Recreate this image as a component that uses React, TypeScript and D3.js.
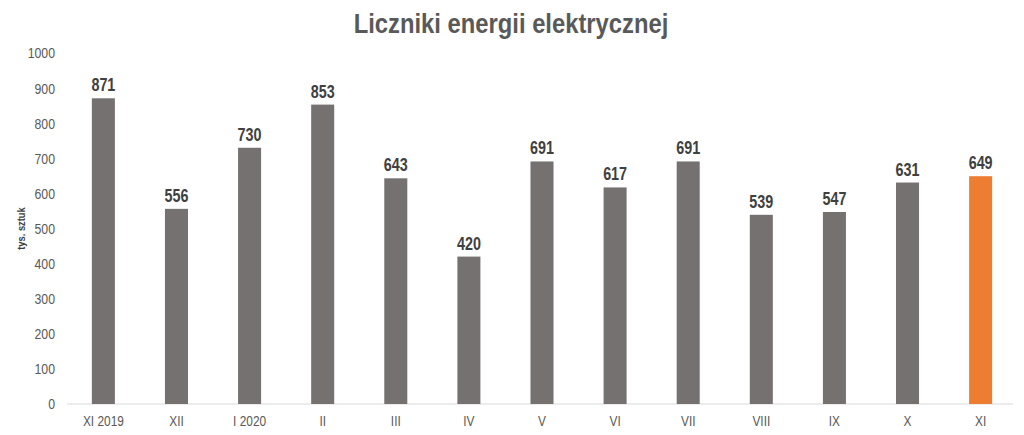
import React from "react";
import * as d3 from "d3";

const categories = ["XI 2019", "XII", "I 2020", "II", "III", "IV", "V", "VI", "VII", "VIII", "IX", "X", "XI"];
const values = [871, 556, 730, 853, 643, 420, 691, 617, 691, 539, 547, 631, 649];
const yTicks = [0, 100, 200, 300, 400, 500, 600, 700, 800, 900, 1000];

const W = 1024, H = 435;
const FONT = "'Liberation Sans', Arial, sans-serif";
const SX = 0.82;

function NText({ x, y, size, bold, anchor, fill, children, dy }: any) {
  return (
    <text transform={`translate(${x},${y}) scale(${SX},1)`} dy={dy} textAnchor={anchor} fontFamily={FONT}
      fontWeight={bold ? "bold" : "normal"} fontSize={size} fill={fill}>{children}</text>
  );
}

export default function App() {
  const x = d3.scaleBand<string>().domain(categories).range([67, 1017]).paddingInner(0.685).paddingOuter(0.34);
  const y = d3.scaleLinear().domain([0, 1000]).range([404, 53]);
  return (
    <svg width={W} height={H} style={{ position: "absolute", left: 0, top: 0, background: "#fff" }}>
      <text transform={`translate(511,33) scale(0.85,1)`} textAnchor="middle" fontFamily={FONT} fontWeight="bold" fontSize={28} fill="#595959">Liczniki energii elektrycznej</text>
      {yTicks.map(t => (
        <NText key={t} x={55} y={y(t)} dy="0.36em" anchor="end" size={15} fill="#595959">{t}</NText>
      ))}
      <text transform={`translate(25,${y(500)}) rotate(-90) scale(0.85,1)`} textAnchor="middle" fontFamily={FONT} fontWeight="bold" fontSize={11} fill="#404040">tys. sztuk</text>
      <line x1={67} x2={1013} y1={y(0)} y2={y(0)} stroke="#d9d9d9" strokeWidth={1} />
      {categories.map((c, i) => (
        <g key={c + i}>
          <rect x={x(c)} y={y(values[i])} width={x.bandwidth()} height={y(0) - y(values[i])} fill={i === categories.length - 1 ? "#ED7D31" : "#767171"} />
          <NText x={x(c)! + x.bandwidth() / 2} y={y(values[i]) - 7} anchor="middle" bold size={17.5} fill="#404040">{values[i]}</NText>
          <NText x={x(c)! + x.bandwidth() / 2} y={426} anchor="middle" size={14.5} fill="#595959">{c}</NText>
        </g>
      ))}
    </svg>
  );
}
